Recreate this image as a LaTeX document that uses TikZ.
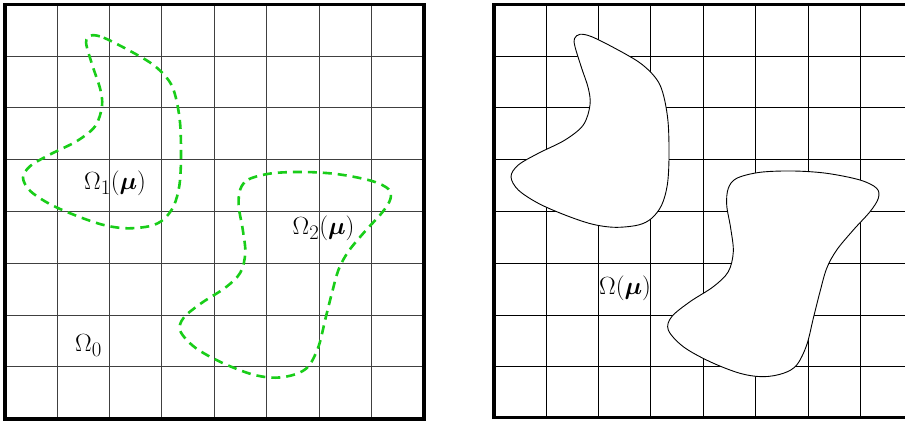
\documentclass[tikz,border=0pt]{standalone}
\usepackage{bm}
\definecolor{dashgreen}{RGB}{25,205,25}
\tikzset{
  frame/.style={line width=3.6pt},
  gridline/.style={line width=0.85pt},
  lbl/.style={inner sep=0pt, anchor=base west, font=\Huge},
  blobline/.style={draw=black, fill=white, line width=0.9pt},
  dashblob/.style={draw=dashgreen, line width=2.6pt, dash pattern=on 9pt off 6pt}
}
\newcommand{\blobOne}[1]{\path[#1] plot[smooth cycle, tension=0.55] coordinates {
(580,34.3) (591.7,36.7) (615,48.3) (638.3,61.7) (651.7,73.3) (660,85) (665,101.7)
(668.3,125) (669,158.3) (667.3,185) (661.7,205) (651.7,218.3) (638.3,225)
(615,227.3) (591.7,224) (565,215) (538.3,203.3) (518.3,190) (511,176.7)
(518.3,165) (538.3,153.3) (565,140) (583.3,125) (590,105) (588.3,88.3)
(581.7,68.3) (575,46.7) (574.5,38.5)};}
\newcommand{\blobTwo}[1]{\path[#1] plot[smooth cycle, tension=0.55] coordinates {
(728.3,188.3) (736.7,178.3) (760,172.3) (793.3,171) (826.7,173.3) (860,180)
(876.7,188.3) (878.3,198.3) (870,211.7) (853.3,230) (836.7,250) (826.7,268.3)
(820,291.7) (813.3,318.3) (806.7,345) (796.7,365) (783.3,373.3) (763.3,376.7)
(740,373.3) (710,361.7) (683.3,346.7) (668.3,330) (671.7,316.7) (690,301.7)
(713.3,286.7) (728.3,271.7) (733.3,251.7) (730.7,228.3) (726.7,205)};}
\begin{document}
\begin{tikzpicture}[x=1pt,y=-1pt]
\useasboundingbox (0,0) rectangle (905,421);
\clip (0,0) rectangle (905,421);
% ---------- left panel ----------
\begin{scope}
  \foreach \i in {1,...,7} {
    \draw[gridline, black!75] ({4.7+52.4*\i},4.3) -- ({4.7+52.4*\i},418.7);
    \draw[gridline, black!75] (4.7,{4.3+51.8*\i}) -- (424,{4.3+51.8*\i});
  }
  \begin{scope}[xshift=-488pt, yshift=-1pt]
    \blobOne{dashblob}
    \blobTwo{dashblob}
  \end{scope}
  \draw[frame] (4.7,4.3) rectangle (424,418.7);
  \node[lbl] (om1) at (84,189.5) {$\Omega_1(\bm{\mu})$};
  \node[lbl] (om2) at (292.5,234.5) {$\Omega_2(\bm{\mu})$};
  \node[lbl] (om0) at (75,351.5) {$\Omega_0$};
\end{scope}
% ---------- right panel ----------
\begin{scope}
  \foreach \i in {1,...,7} {
    \draw[gridline] ({493.7+52.4*\i},4.3) -- ({493.7+52.4*\i},417.5);
    \draw[gridline] (493.7,{4.3+51.8*\i}) -- (913,{4.3+51.8*\i});
  }
  \blobOne{blobline}
  \blobTwo{blobline}
  \draw[frame] (493.7,4.3) rectangle (913,417.5);
  \node[lbl] (om) at (599,294) {$\Omega(\bm{\mu})$};
\end{scope}
\end{tikzpicture}
\end{document}
